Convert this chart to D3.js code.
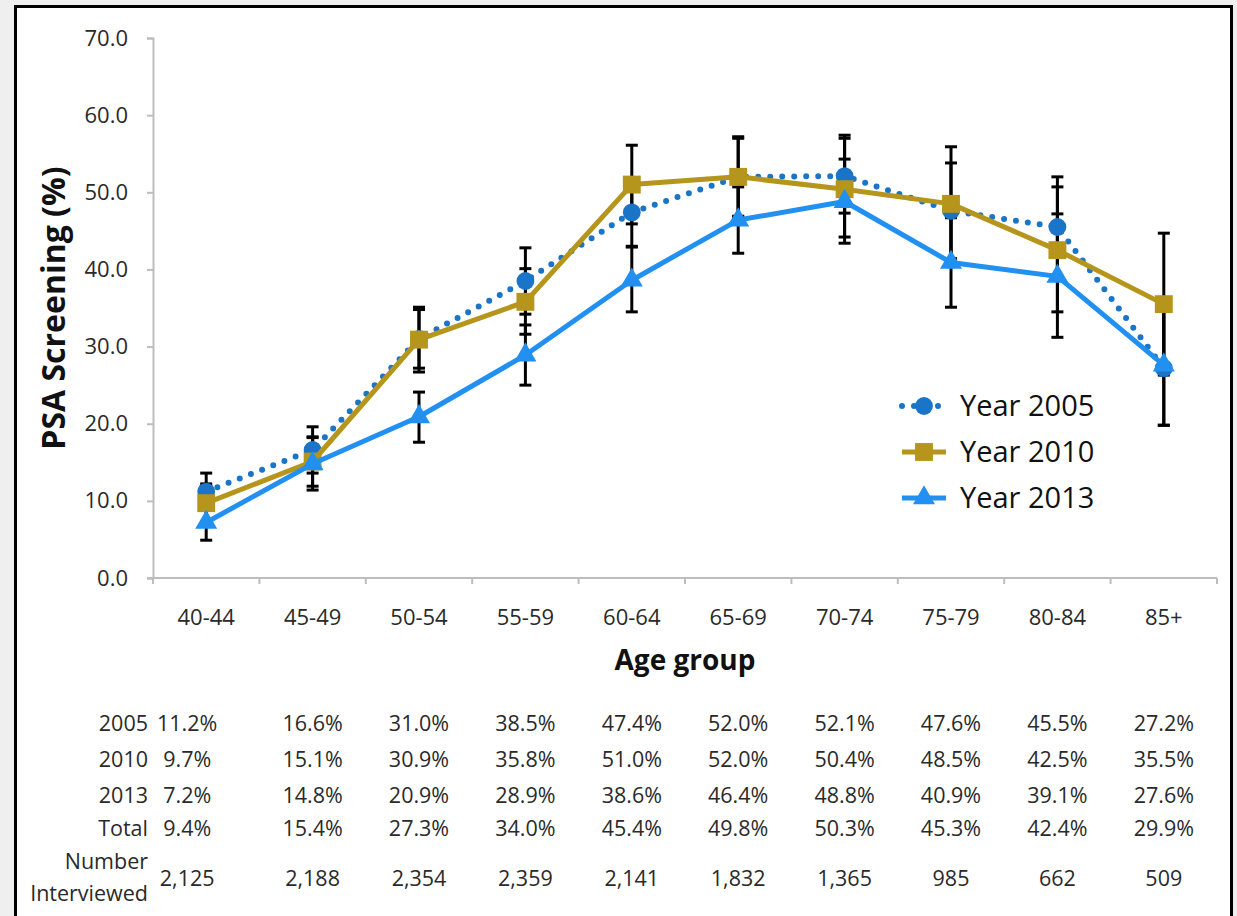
<!DOCTYPE html>
<html>
<head>
<meta charset="utf-8">
<script src="https://cdn.jsdelivr.net/npm/d3@7"></script>
<style>
  html, body { margin: 0; padding: 0; background: #efefef; }
  svg { display: block; }
  text { font-family: "Open Sans", "DejaVu Sans", sans-serif; }
</style>
</head>
<body>
<svg id="chart" width="1237" height="916"></svg>
<script>
// Age groups on the x axis
const ageGroups = ["40-44", "45-49", "50-54", "55-59", "60-64", "65-69", "70-74", "75-79", "80-84", "85+"];

// PSA screening rate (%) by survey year
const y2005 = [11.2, 16.6, 31.0, 38.5, 47.4, 52.0, 52.1, 47.6, 45.5, 27.2];
const y2010 = [9.7, 15.1, 30.9, 35.8, 51.0, 52.0, 50.4, 48.5, 42.5, 35.5];
const y2013 = [7.2, 14.8, 20.9, 28.9, 38.6, 46.4, 48.8, 40.9, 39.1, 27.6];
const totalRate = [9.4, 15.4, 27.3, 34.0, 45.4, 49.8, 50.3, 45.3, 42.4, 29.9];
const interviewed = [2125, 2188, 2354, 2359, 2141, 1832, 1365, 985, 662, 509];

// 95% confidence intervals (lower, upper)
const ci2005Low  = [8.8, 13.6, 27.2, 34.2, 42.9, 46.8, 47.3, 41.4, 39.0, 19.8];
const ci2005High = [13.6, 19.6, 34.8, 42.8, 51.9, 57.2, 57.0, 53.8, 52.0, 34.6];
const ci2010Low  = [7.2, 11.9, 26.7, 31.6, 45.9, 46.9, 44.2, 41.1, 34.5, 26.3];
const ci2010High = [12.2, 18.3, 35.1, 40.1, 56.1, 57.0, 57.4, 55.9, 50.7, 44.7];
const ci2013Low  = [4.9, 11.4, 17.6, 25.0, 34.5, 42.1, 43.4, 35.1, 31.2, 19.8];
const ci2013High = [9.5, 18.2, 24.1, 32.8, 43.0, 50.7, 54.3, 46.7, 47.2, 35.4];

const yTicks = [0, 10, 20, 30, 40, 50, 60, 70];
const seriesNames = ["Year 2005", "Year 2010", "Year 2013"];
const tableLabels = ["2005", "2010", "2013", "Total"];

const svg = d3.select("#chart");

// Framed white panel
svg.append("rect")
  .attr("x", 15.5).attr("y", 6.5)
  .attr("width", 1216).attr("height", 940)
  .attr("fill", "#fff").attr("stroke", "#000").attr("stroke-width", 3);

const x = d3.scaleBand().domain(ageGroups).range([153, 1217]).padding(0);
const y = d3.scaleLinear().domain([0, 70]).range([578, 38]);
const cx = d => x(d) + x.bandwidth() / 2;

const axisColor = "#bdbdbd";
const textColor = "#2a2a2a";

// Y axis
const yAxis = svg.append("g")
  .attr("transform", "translate(153,0)")
  .call(d3.axisLeft(y).tickValues(yTicks).tickFormat(d3.format(".1f")).tickSize(6).tickPadding(19));
yAxis.select(".domain").attr("stroke", axisColor).attr("stroke-width", 2);
yAxis.selectAll(".tick line").attr("stroke", axisColor).attr("stroke-width", 2);
yAxis.selectAll(".tick text")
  .attr("fill", textColor).style("font-size", "22px");

// X axis with ticks at band boundaries
const xAxis = svg.append("g").attr("transform", "translate(0,578)");
xAxis.append("line")
  .attr("x1", 147).attr("x2", 1217)
  .attr("stroke", axisColor).attr("stroke-width", 2);
const bounds = ageGroups.map(d => x(d)).concat([x.range()[1]]);
xAxis.selectAll("line.tick").data(bounds).join("line")
  .attr("class", "tick")
  .attr("x1", d => d).attr("x2", d => d)
  .attr("y1", 0).attr("y2", 6)
  .attr("stroke", axisColor).attr("stroke-width", 2);
xAxis.selectAll("text.lbl").data(ageGroups).join("text")
  .attr("class", "lbl")
  .attr("x", d => cx(d)).attr("y", 47)
  .attr("text-anchor", "middle")
  .attr("fill", textColor).style("font-size", "22px")
  .text(d => d);

// Axis titles
svg.append("text")
  .attr("transform", "translate(65,308) rotate(-90)")
  .attr("text-anchor", "middle")
  .attr("fill", "#111").style("font-size", "32px").style("font-weight", "bold")
  .text("PSA Screening (%)");
svg.append("text")
  .attr("x", 685).attr("y", 670)
  .attr("text-anchor", "middle")
  .attr("fill", "#111").style("font-size", "28px").style("font-weight", "bold")
  .text("Age group");

const series = [
  { name: seriesNames[0], vals: y2005, lo: ci2005Low, hi: ci2005High, color: "#1a74c8", dotted: true,  marker: "circle" },
  { name: seriesNames[1], vals: y2010, lo: ci2010Low, hi: ci2010High, color: "#b5951b", dotted: false, marker: "square" },
  { name: seriesNames[2], vals: y2013, lo: ci2013Low, hi: ci2013High, color: "#2190f0", dotted: false, marker: "triangle" }
];

// Error bars
const eb = svg.append("g");
series.forEach(s => {
  ageGroups.forEach((g, i) => {
    const px = cx(g);
    eb.append("line").attr("x1", px).attr("x2", px)
      .attr("y1", y(s.lo[i])).attr("y2", y(s.hi[i]))
      .attr("stroke", "#000").attr("stroke-width", 3);
    [s.lo[i], s.hi[i]].forEach(v => {
      eb.append("line").attr("x1", px - 6).attr("x2", px + 6)
        .attr("y1", y(v)).attr("y2", y(v))
        .attr("stroke", "#000").attr("stroke-width", 3);
    });
  });
});

const symbolFor = m => m === "circle" ? d3.symbol(d3.symbolCircle, 250)
  : m === "square" ? d3.symbol(d3.symbolSquare, 320)
  : d3.symbol(d3.symbolTriangle, 210);

function styleLine(sel, s) {
  sel.attr("fill", "none").attr("stroke", s.color);
  if (s.dotted) {
    sel.attr("stroke-width", 6).attr("stroke-linecap", "round").attr("stroke-dasharray", "0 12");
  } else {
    sel.attr("stroke-width", 5).attr("stroke-linejoin", "round");
  }
}

const line = d3.line().x((d, i) => cx(ageGroups[i])).y(d => y(d));

series.forEach(s => {
  const g = svg.append("g");
  g.append("path").datum(s.vals).attr("d", line).call(styleLine, s);
  g.selectAll("path.mk").data(s.vals).join("path")
    .attr("class", "mk")
    .attr("transform", (d, i) => `translate(${cx(ageGroups[i])},${y(d)})`)
    .attr("d", symbolFor(s.marker))
    .attr("fill", s.color);
});

// Legend
const legend = svg.append("g");
series.forEach((s, i) => {
  const ly = 406 + i * 46;
  legend.append("line").attr("x1", 902).attr("x2", 946).attr("y1", ly).attr("y2", ly).call(styleLine, s);
  legend.append("path").attr("transform", `translate(924,${ly})`)
    .attr("d", symbolFor(s.marker)).attr("fill", s.color);
  legend.append("text").attr("x", 960).attr("y", ly + 10)
    .attr("fill", "#111").style("font-size", "29px")
    .text(s.name);
});

// Data table below the chart
const pct = d3.format(".1f");
const tableRows = [y2005, y2010, y2013, totalRate];
const rowY = [731, 767, 803, 836];
const labelX = 148;
const colX = (g, i) => i === 0 ? cx(g) - 19 : cx(g);
const table = svg.append("g").attr("fill", textColor).style("font-size", "21.5px");
tableRows.forEach((row, r) => {
  table.append("text").attr("x", labelX).attr("y", rowY[r]).attr("text-anchor", "end").text(tableLabels[r]);
  row.forEach((v, i) => {
    table.append("text").attr("x", colX(ageGroups[i], i)).attr("y", rowY[r])
      .attr("text-anchor", "middle").text(pct(v) + "%");
  });
});
table.append("text").attr("x", labelX).attr("y", 869).attr("text-anchor", "end").text("Number");
table.append("text").attr("x", labelX).attr("y", 901).attr("text-anchor", "end").text("Interviewed");
interviewed.forEach((v, i) => {
  table.append("text").attr("x", colX(ageGroups[i], i)).attr("y", 886)
    .attr("text-anchor", "middle").text(d3.format(",")(v));
});
</script>
</body>
</html>
